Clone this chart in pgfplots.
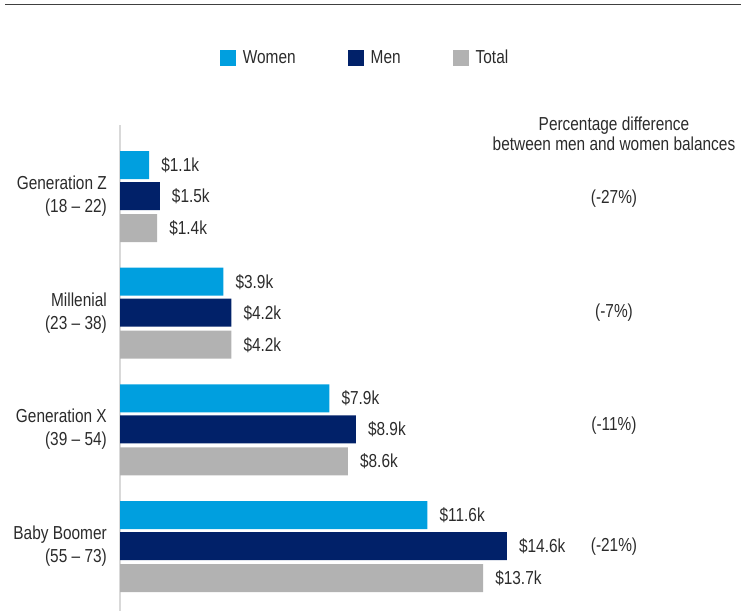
\documentclass[border=0pt]{standalone}
\usepackage{fontspec}
\setmainfont{Liberation Sans}[FakeStretch=0.82]
\usepackage{pgfplots}
\pgfplotsset{compat=1.18}
\definecolor{women}{HTML}{009FDF}
\definecolor{men}{HTML}{012169}
\definecolor{total}{HTML}{B2B2B2}
\definecolor{txt}{HTML}{2B2B2B}
\definecolor{axisgray}{HTML}{D9D9D9}
\definecolor{rulec}{HTML}{404040}
\begin{document}
\begin{tikzpicture}[font=\fontsize{18.8bp}{23bp}\selectfont, text=txt]
\path[use as bounding box] (0,0) rectangle (741bp,611bp);
\draw[rulec, line width=1.5bp] (5bp,606.5bp) -- (741bp,606.5bp);
\begin{axis}[
  at={(120bp,0bp)}, anchor=south west,
  scale only axis, width=424bp, height=486bp,
  xbar, xmin=0, xmax=16, ymin=-0.557, ymax=3.609,
  axis x line=none, axis y line=left,
  y axis line style={-, draw=axisgray, line width=2bp},
  ytick={0,1,2,3},
  yticklabels={{Baby Boomer\\(55 – 73)},{Generation X\\(39 – 54)},{Millenial\\(23 – 38)},{Generation Z\\(18 – 22)}},
  yticklabel style={align=right, text=txt, inner sep=0pt, xshift=-13bp, font=\fontsize{18.8bp}{23bp}\selectfont},
  major tick length=0pt,
  bar width=28bp,
  nodes near coords={\$\pgfmathprintnumber[fixed,fixed zerofill,precision=1,assume math mode=true]{\pgfplotspointmeta}k},
  nodes near coords style={anchor=west, inner sep=0pt, xshift=12bp, text=txt, font=\fontsize{18.8bp}{23bp}\selectfont},
  /pgf/number format/assume math mode=true,
  clip=false,
  legend columns=3,
  legend style={draw=none, fill=none, at={(0.578,1.138)}, anchor=center,
    font=\fontsize{18.8bp}{23bp}\selectfont, text=txt,
    /tikz/every odd column/.append style={column sep=5bp},
    /tikz/every even column/.append style={column sep=50bp}},
  legend image code/.code={\fill[#1] (0bp,-8bp) rectangle (16bp,8bp);},
]
\addplot[fill=women, draw=none, bar shift=31bp] coordinates {(1.1,3) (3.9,2) (7.9,1) (11.6,0)};
\addplot[fill=men, draw=none, bar shift=0bp] coordinates {(1.5,3) (4.2,2) (8.9,1) (14.6,0)};
\addplot[fill=total, draw=none, bar shift=-32bp] coordinates {(1.4,3) (4.2,2) (8.6,1) (13.7,0)};
\legend{Women, Men, Total}
\end{axis}
\node[align=center, font=\fontsize{18.8bp}{20bp}\selectfont] at (614bp,477bp) {Percentage difference\\between men and women balances};
\node at (614bp,412bp) {(-27\%)};
\node at (614bp,298bp) {(-7\%)};
\node at (614bp,185bp) {(-11\%)};
\node at (614bp,64bp) {(-21\%)};
\end{tikzpicture}
\end{document}
